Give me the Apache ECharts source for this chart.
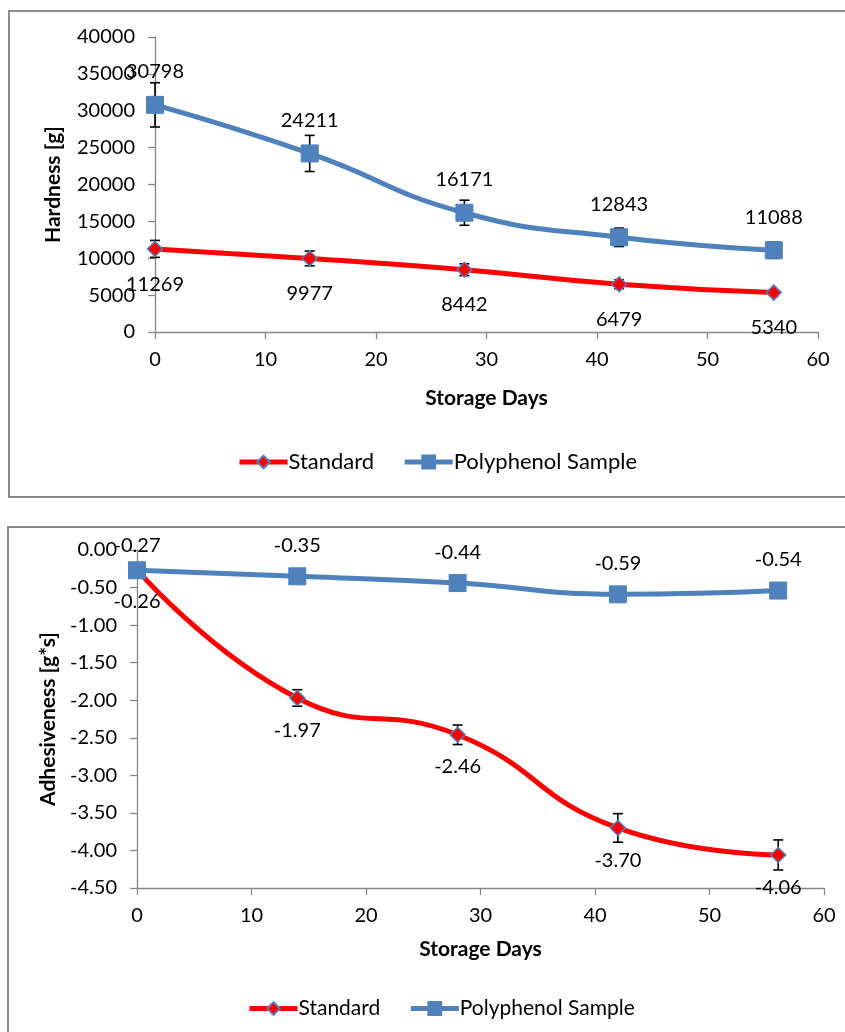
<!DOCTYPE html>
<html>
<head>
<meta charset="utf-8">
<title>Hardness and Adhesiveness over Storage</title>
<script src="https://cdn.jsdelivr.net/npm/echarts@6/dist/echarts.min.js"></script>
<style>
  html, body { margin: 0; padding: 0; background: #fff; }
  #chart { width: 845px; height: 1032px; }
</style>
</head>
<body>
<div id="chart"></div>
<script>
// Storage time points (days)
const days = [0, 14, 28, 42, 56];

// Hardness [g]
const hardnessStandard = [11269, 9977, 8442, 6479, 5340];
const hardnessPoly = [30798, 24211, 16171, 12843, 11088];
const hardnessStandardErr = [1150, 1000, 800, 600, 400];
const hardnessPolyErr = [3000, 2450, 1700, 1250, 1100];

// Adhesiveness [g*s]
const adhStandard = [-0.26, -1.97, -2.46, -3.70, -4.06];
const adhPoly = [-0.27, -0.35, -0.44, -0.59, -0.54];
const adhStandardErr = [0.03, 0.11, 0.13, 0.19, 0.20];
const adhPolyErr = [0.03, 0.03, 0.04, 0.06, 0.06];

const seriesNames = ['Standard', 'Polyphenol Sample'];

const FONT = 'Lato, "Open Sans", sans-serif';
const RED = '#ff0000';
const BLUE = '#4f81bd';
const AXIS_GRAY = '#868686';

function pairs(xs, ys) { return xs.map((x, i) => [x, ys[i]]); }
function triples(xs, ys, es) { return xs.map((x, i) => [x, ys[i], es[i]]); }

// I-beam error bars drawn in data coordinates
function errorBarRender(params, api) {
  const x = api.value(0), y = api.value(1), e = api.value(2);
  const hi = api.coord([x, y + e]);
  const lo = api.coord([x, y - e]);
  const cap = 5;
  const style = { stroke: '#000', lineWidth: 1.6 };
  return {
    type: 'group',
    children: [
      { type: 'line', shape: { x1: hi[0], y1: hi[1], x2: lo[0], y2: lo[1] }, style },
      { type: 'line', shape: { x1: hi[0] - cap, y1: hi[1], x2: hi[0] + cap, y2: hi[1] }, style },
      { type: 'line', shape: { x1: lo[0] - cap, y1: lo[1], x2: lo[0] + cap, y2: lo[1] }, style }
    ]
  };
}

function xAxisFor(gridIndex, gap) {
  return {
    gridIndex, type: 'value', min: 0, max: 60, interval: 10,
    name: 'Storage Days', nameLocation: 'middle', nameGap: gap,
    nameTextStyle: { fontFamily: FONT, fontSize: 21, fontWeight: 'bold', color: '#000' },
    axisLine: { show: true, onZero: false, lineStyle: { color: AXIS_GRAY, width: 1.3 } },
    axisTick: { show: true, length: 7, lineStyle: { color: AXIS_GRAY, width: 1.3 } },
    axisLabel: { fontFamily: FONT, fontSize: 20, color: '#000', margin: 18 },
    splitLine: { show: false }
  };
}

function yAxisFor(gridIndex, opts, labelFmt) {
  return Object.assign({
    gridIndex, type: 'value', nameLocation: 'middle', nameRotate: 90,
    nameTextStyle: { fontFamily: FONT, fontSize: 21, fontWeight: 'bold', color: '#000' },
    axisLine: { show: true, onZero: false, lineStyle: { color: AXIS_GRAY, width: 1.3 } },
    axisTick: { show: true, length: 7, lineStyle: { color: AXIS_GRAY, width: 1.3 } },
    axisLabel: { fontFamily: FONT, fontSize: 20, color: '#000', margin: 20, formatter: labelFmt },
    splitLine: { show: false }
  }, opts);
}

function lineSeries(name, idx, data, isStd, labelPos, labelDist, fmt) {
  return {
    name, type: 'line', xAxisIndex: idx, yAxisIndex: idx,
    data, smooth: 0.5,
    symbol: isStd ? 'diamond' : 'rect',
    symbolSize: isStd ? 15 : 17,
    lineStyle: { color: isStd ? RED : BLUE, width: 5 },
    itemStyle: isStd
      ? { color: RED, borderColor: BLUE, borderWidth: 1.5 }
      : { color: BLUE, borderColor: BLUE, borderWidth: 1 },
    label: {
      show: true, position: labelPos, distance: labelDist,
      fontFamily: FONT, fontSize: 20, color: '#000',
      formatter: p => fmt(p.value[1])
    },
    z: isStd ? 3 : 4
  };
}

function errSeries(idx, data) {
  return {
    type: 'custom', xAxisIndex: idx, yAxisIndex: idx,
    renderItem: errorBarRender, data, z: 2, silent: true
  };
}

function legendFor(left, top, size) {
  return {
    data: seriesNames, left, top, padding: 0,
    itemWidth: 48, itemHeight: 16, itemGap: 28,
    lineStyle: { width: 5 },
    textStyle: { fontFamily: FONT, fontSize: size, color: '#000', padding: [0, 0, 0, -4] },
    selectedMode: false
  };
}

const fmtInt = v => String(v);
const fmt2 = v => v.toFixed(2);

// The first Polyphenol adhesiveness label sits a little closer to its marker
const adhPolyData = pairs(days, adhPoly).map((v, i) =>
  i === 0 ? { value: v, label: { distance: 6 } } : v);

const option = {
  animation: false,
  backgroundColor: '#fff',
  graphic: [
    { type: 'rect', shape: { x: 9, y: 11, width: 900, height: 486 },
      style: { fill: 'none', stroke: '#8c8c8c', lineWidth: 2 }, z: -1 },
    { type: 'rect', shape: { x: 8, y: 527, width: 900, height: 600 },
      style: { fill: 'none', stroke: '#8c8c8c', lineWidth: 2 }, z: -1 }
  ],
  grid: [
    { left: 155, top: 37, width: 663, height: 295 },
    { left: 137, top: 550, width: 687, height: 338 }
  ],
  xAxis: [xAxisFor(0, 56), xAxisFor(1, 51)],
  yAxis: [
    yAxisFor(0, { min: 0, max: 40000, interval: 5000, name: 'Hardness [g]', nameGap: 91 }, v => String(v)),
    yAxisFor(1, { min: -4.5, max: 0, interval: 0.5, name: 'Adhesiveness [g*s]', nameGap: 75 }, v => v.toFixed(2))
  ],
  legend: [legendFor(237, 451, 22), legendFor(247, 998, 21)],
  series: [
    errSeries(0, triples(days, hardnessStandard, hardnessStandardErr)),
    errSeries(0, triples(days, hardnessPoly, hardnessPolyErr)),
    lineSeries(seriesNames[0], 0, pairs(days, hardnessStandard), true, 'bottom', 17, fmtInt),
    lineSeries(seriesNames[1], 0, pairs(days, hardnessPoly), false, 'top', 14, fmtInt),
    errSeries(1, triples(days, adhStandard, adhStandardErr)),
    errSeries(1, triples(days, adhPoly, adhPolyErr)),
    lineSeries(seriesNames[0], 1, pairs(days, adhStandard), true, 'bottom', 14, fmt2),
    lineSeries(seriesNames[1], 1, adhPolyData, false, 'top', 12, fmt2)
  ]
};

const chart = echarts.init(document.getElementById('chart'), null, { renderer: 'canvas' });
chart.setOption(option);
</script>
</body>
</html>
